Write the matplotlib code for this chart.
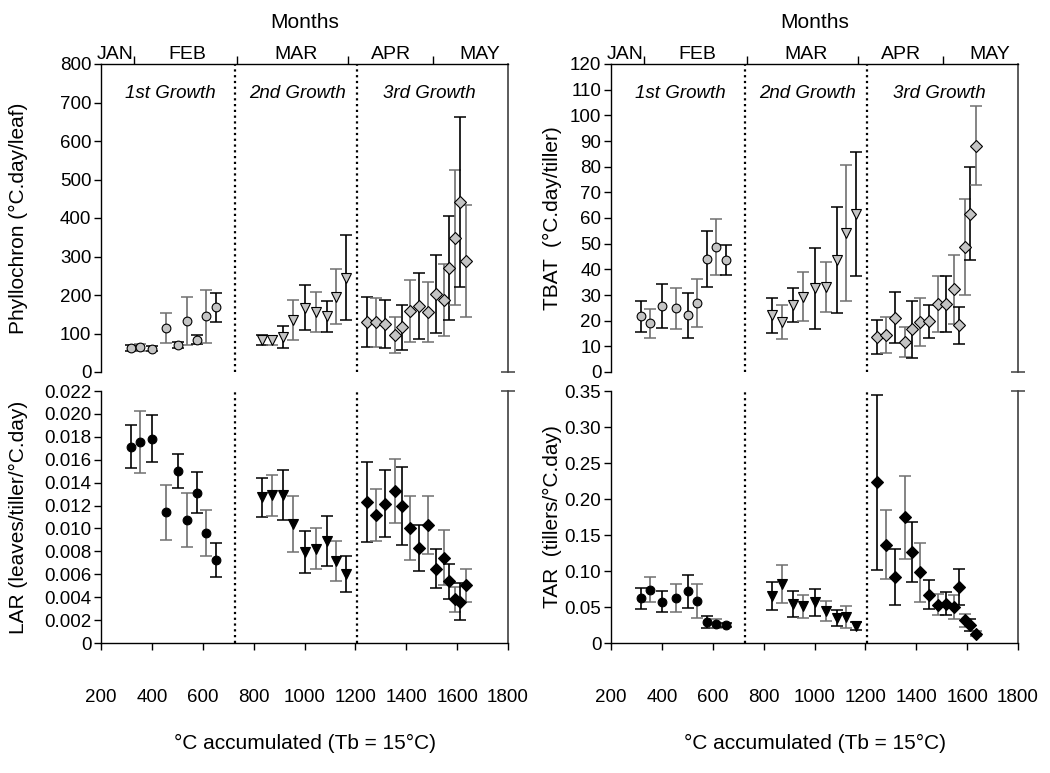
import matplotlib
matplotlib.use("Agg")
import matplotlib.pyplot as plt
from matplotlib.ticker import FuncFormatter

plt.rcParams['font.family'] = ['Liberation Sans', 'DejaVu Sans']

# ---------------- data ----------------
x1 = [318, 355, 402, 456, 503, 538, 577, 614, 651]
x2 = [831, 873, 914, 956, 1002, 1046, 1087, 1123, 1162]
x3 = [1245, 1280, 1318, 1356, 1385, 1415, 1450, 1485, 1518, 1548, 1567, 1592, 1612, 1633]

ph1 = [62.6, 64.3, 60.9, 113.9, 70.4, 132.2, 84.3, 145.2, 167.8]
ph1_err = [7, 9.5, 6.5, 38.7, 7.4, 61.7, 12.2, 69, 37.4]
ph2 = [82.6, 82.6, 91.3, 134.8, 167, 155.7, 145.2, 195.7, 245.2]
ph2_err = [12.6, 11.3, 28, 51, 58.7, 51, 40.4, 71, 110.5]
ph3 = [130.6, 129, 124.7, 97, 116, 159, 172, 155, 202, 187, 271, 349, 442, 288]
ph3_err = [65, 64, 62, 47, 58, 80, 86, 78, 101, 93, 135, 175, 221, 145]

tb1 = [21.7, 19.0, 25.7, 24.8, 22.1, 27.0, 44.0, 48.6, 43.6]
tb1_err = [6.0, 5.7, 8.5, 8.0, 8.7, 9.3, 10.8, 11.0, 5.7]
tb2 = [22.1, 19.5, 26.1, 29.4, 32.7, 33.1, 43.6, 54.0, 61.7]
tb2_err = [6.8, 6.7, 6.5, 9.5, 15.8, 9.9, 20.5, 26.5, 24.2]
tb3 = [13.6, 14.4, 21.2, 11.7, 16.6, 19.5, 19.7, 26.5, 26.5, 32.2, 18.3, 48.7, 61.7, 88.1]
tb3_err = [6.5, 7.0, 9.9, 6.0, 11.0, 9.5, 6.5, 11.0, 11.0, 13.5, 7.2, 18.6, 18.0, 15.4]

lar1 = [0.01714, 0.01755, 0.01783, 0.0114, 0.01502, 0.01076, 0.01312, 0.00957, 0.00724]
lar1_err = [0.00185, 0.00268, 0.00205, 0.00237, 0.00152, 0.00236, 0.00177, 0.0020, 0.00145]
lar2 = [0.01271, 0.0129, 0.0129, 0.01038, 0.00793, 0.00824, 0.0089, 0.00712, 0.00602]
lar2_err = [0.0017, 0.0018, 0.0022, 0.00245, 0.00183, 0.0018, 0.0022, 0.00175, 0.0016]
lar3 = [0.01229, 0.01117, 0.01217, 0.01324, 0.01193, 0.01005, 0.00831, 0.01031,
        0.00648, 0.00745, 0.00538, 0.00383, 0.0036, 0.00502]
lar3_err = [0.0035, 0.0023, 0.0029, 0.0028, 0.0034, 0.0028, 0.0020, 0.0025,
            0.0017, 0.0024, 0.0015, 0.0011, 0.0016, 0.0014]

tar1 = [0.0621, 0.0739, 0.0572, 0.0629, 0.0716, 0.0580, 0.0295, 0.0269, 0.0250]
tar1_err = [0.0146, 0.0175, 0.0146, 0.0195, 0.0227, 0.0235, 0.008, 0.0065, 0.003]
tar2 = [0.0659, 0.0818, 0.0538, 0.0508, 0.0564, 0.0439, 0.0345, 0.0364, 0.0235]
tar2_err = [0.0195, 0.0265, 0.018, 0.016, 0.019, 0.014, 0.011, 0.0155, 0.005]
tar3 = [0.223, 0.1367, 0.092, 0.1746, 0.1261, 0.0981, 0.0669, 0.0534, 0.0545,
        0.0500, 0.0784, 0.0318, 0.025, 0.013]
tar3_err = [0.121, 0.048, 0.039, 0.058, 0.042, 0.041, 0.020, 0.015, 0.016,
            0.0165, 0.025, 0.009, 0.009, 0.003]

months = ['JAN', 'FEB', 'MAR', 'APR', 'MAY']
month_label_pos = [257, 540, 965, 1342, 1688]
month_bounds = [331, 736, 1172, 1504]
growth_labels = ['1st Growth', '2nd Growth', '3rd Growth']
growth_pos = [473, 971, 1490]
cut_lines = [726, 1208]

# ---------------- figure ----------------
fig = plt.figure(figsize=(10.5, 7.73), dpi=100)
W, H = 1050, 773

def axpos(x0, x1_, ytop, ybot):
    return [x0 / W, 1 - ybot / H, (x1_ - x0) / W, (ybot - ytop) / H]

ax_tl = fig.add_axes(axpos(101, 508, 64, 372))
ax_bl = fig.add_axes(axpos(101, 508, 391, 643))
ax_tr = fig.add_axes(axpos(611, 1018, 64, 372))
ax_br = fig.add_axes(axpos(611, 1018, 391, 643))

GRAY_FILL = '#c4c4c4'
BAR_COLS = ['black', '#707070']
FS_TICK = 13.5
FS_LAB = 15
FS_MON = 14
FS_GROW = 13.5


def draw_series(ax, xs, ys, es, marker, fill, ms):
    for i, (x, y, e) in enumerate(zip(xs, ys, es)):
        ax.errorbar([x], [y], yerr=[e], fmt='none', ecolor=BAR_COLS[i % 2],
                    elinewidth=1.2, capsize=4.5, capthick=1.1, zorder=2)
    ax.plot(xs, ys, linestyle='none', marker=marker, markersize=ms,
            markerfacecolor=fill, markeredgecolor='black', markeredgewidth=0.8,
            zorder=3)


def common(ax, top, ylim, yticks, ylabel, fmt, labx):
    ax.set_xlim(200, 1800)
    ax.set_ylim(*ylim)
    ax.set_yticks(yticks)
    ax.yaxis.set_major_formatter(FuncFormatter(fmt))
    ax.tick_params(axis='y', direction='out', length=5, width=1, labelsize=FS_TICK, pad=2)
    ax.spines['right'].set_visible(False)
    for xv in cut_lines:
        ax.axvline(xv, color='black', linestyle=(0, (1, 1.6)), linewidth=1.6, zorder=1)
    ax.set_ylabel(ylabel, fontsize=FS_LAB)
    ax.yaxis.set_label_coords(labx, 0.5)
    if top:
        ax.spines['bottom'].set_visible(False)
        ax.xaxis.set_ticks_position('top')
        ax.xaxis.set_label_position('top')
        ax.set_xticks(month_bounds)
        ax.set_xticklabels([])
        ax.set_xticks(month_label_pos, minor=True)
        ax.set_xticklabels(months, minor=True, fontsize=FS_MON)
        ax.tick_params(axis='x', which='major', direction='out', length=6, width=1)
        ax.tick_params(axis='x', which='minor', length=0, pad=1)
        ax.set_xlabel('Months', fontsize=FS_LAB, labelpad=13)
        for t, p in zip(growth_labels, growth_pos):
            ax.text(p, 0.905, t, transform=ax.get_xaxis_transform(), ha='center',
                    va='center', fontsize=FS_GROW, style='italic')
        # right edge line with a cap at the bottom
        ax.plot([1800, 1800], [ylim[0], ylim[1]], color='#404040', linewidth=1.2,
                clip_on=False, zorder=2)
        ax.plot([1800], [ylim[0]], marker='_', markersize=10, markeredgewidth=1.1,
                color='#404040', clip_on=False, zorder=2)
    else:
        ax.spines['top'].set_visible(False)
        ax.set_xticks(range(200, 1801, 200))
        ax.tick_params(axis='x', direction='out', length=5, width=1,
                       labelsize=FS_TICK, pad=28)
        ax.set_xlabel('°C accumulated (Tb = 15°C)', fontsize=FS_LAB, labelpad=20)
        ax.plot([1800, 1800], [ylim[0], ylim[1]], color='#404040', linewidth=1.2,
                clip_on=False, zorder=2)
        ax.plot([1800], [ylim[1]], marker='_', markersize=10, markeredgewidth=1.1,
                color='#404040', clip_on=False, zorder=2)
    for s in ax.spines.values():
        s.set_linewidth(1.0)


# Phyllochron
common(ax_tl, True, (0, 800), range(0, 801, 100), 'Phyllochron (°C.day/leaf)',
       lambda v, p: f'{v:.0f}', -0.18)
draw_series(ax_tl, x1, ph1, ph1_err, 'o', GRAY_FILL, 6.3)
draw_series(ax_tl, x2, ph2, ph2_err, 'v', GRAY_FILL, 7.3)
draw_series(ax_tl, x3, ph3, ph3_err, 'D', GRAY_FILL, 6.3)

# LAR
common(ax_bl, False, (0, 0.022), [i * 0.002 for i in range(12)],
       'LAR (leaves/tiller/°C.day)',
       lambda v, p: '0' if abs(v) < 1e-9 else f'{v:.3f}', -0.18)
draw_series(ax_bl, x1, lar1, lar1_err, 'o', 'black', 6.3)
draw_series(ax_bl, x2, lar2, lar2_err, 'v', 'black', 7.3)
draw_series(ax_bl, x3, lar3, lar3_err, 'D', 'black', 6.3)

# TBAT
common(ax_tr, True, (0, 120), range(0, 121, 10), 'TBAT  (°C.day/tiller)',
       lambda v, p: f'{v:.0f}', -0.12)
draw_series(ax_tr, x1, tb1, tb1_err, 'o', GRAY_FILL, 6.3)
draw_series(ax_tr, x2, tb2, tb2_err, 'v', GRAY_FILL, 7.3)
draw_series(ax_tr, x3, tb3, tb3_err, 'D', GRAY_FILL, 6.3)

# TAR
common(ax_br, False, (0, 0.35), [i * 0.05 for i in range(8)],
       'TAR  (tillers/°C.day)',
       lambda v, p: '0' if abs(v) < 1e-9 else f'{v:.2f}', -0.12)
draw_series(ax_br, x1, tar1, tar1_err, 'o', 'black', 6.3)
draw_series(ax_br, x2, tar2, tar2_err, 'v', 'black', 7.3)
draw_series(ax_br, x3, tar3, tar3_err, 'D', 'black', 6.3)

fig.savefig('out.png', dpi=100)
